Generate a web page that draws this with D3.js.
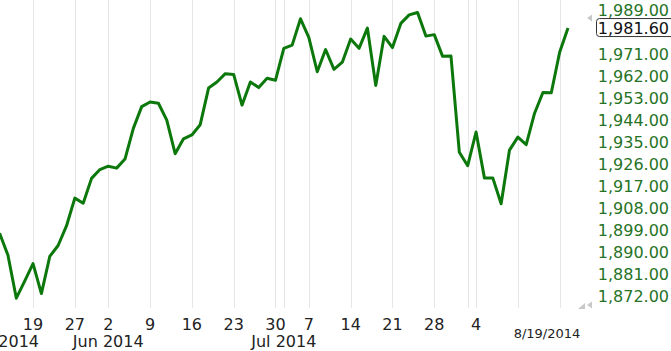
<!DOCTYPE html>
<html>
<head>
<meta charset="utf-8">
<script src="https://cdn.jsdelivr.net/npm/d3@7"></script>
<style>
  body { margin: 0; background: #fff; }
  svg { display: block; font-family: "DejaVu Sans", Verdana, sans-serif; }
</style>
</head>
<body>
<div id="chart"></div>
<script>
// trading days shown (close values)
const days = [
  "2014-05-13","2014-05-14","2014-05-15","2014-05-16","2014-05-19","2014-05-20","2014-05-21","2014-05-22","2014-05-23","2014-05-27","2014-05-28","2014-05-29","2014-05-30",
  "2014-06-02","2014-06-03","2014-06-04","2014-06-05","2014-06-06","2014-06-09","2014-06-10","2014-06-11","2014-06-12","2014-06-13","2014-06-16","2014-06-17","2014-06-18","2014-06-19","2014-06-20","2014-06-23","2014-06-24","2014-06-25","2014-06-26","2014-06-27","2014-06-30",
  "2014-07-01","2014-07-02","2014-07-03","2014-07-07","2014-07-08","2014-07-09","2014-07-10","2014-07-11","2014-07-14","2014-07-15","2014-07-16","2014-07-17","2014-07-18","2014-07-21","2014-07-22","2014-07-23","2014-07-24","2014-07-25","2014-07-28","2014-07-29","2014-07-30","2014-07-31",
  "2014-08-01","2014-08-04","2014-08-05","2014-08-06","2014-08-07","2014-08-08","2014-08-11","2014-08-12","2014-08-13","2014-08-14","2014-08-15","2014-08-18","2014-08-19"
];
const closes = [
  1897.5, 1888.5, 1870.9, 1877.9, 1885.1, 1872.8, 1888.0, 1892.5, 1900.5, 1911.9, 1909.8, 1920.0, 1923.6,
  1925.0, 1924.2, 1927.9, 1940.5, 1949.4, 1951.3, 1950.8, 1943.9, 1930.1, 1936.2, 1937.8, 1942.0, 1957.0, 1959.5, 1962.9, 1962.6, 1950.0, 1959.5, 1957.2, 1961.0, 1960.2,
  1973.3, 1974.6, 1985.4, 1977.7, 1963.7, 1972.8, 1964.7, 1967.6, 1977.1, 1973.3, 1981.6, 1958.1, 1978.2, 1973.6, 1983.5, 1987.0, 1988.0, 1978.3, 1978.9, 1970.0, 1970.1, 1930.7,
  1925.2, 1939.0, 1920.2, 1920.2, 1909.6, 1931.6, 1936.9, 1933.8, 1946.7, 1955.2, 1955.1, 1971.7, 1981.6
];

// x tick days with their labels ("" = gridline only)
const tickDays   = ["2014-05-19","2014-05-27","2014-06-02","2014-06-09","2014-06-16","2014-06-23","2014-06-30","2014-07-01","2014-07-07","2014-07-14","2014-07-21","2014-07-28","2014-08-01","2014-08-04","2014-08-11","2014-08-18"];
const tickLabels = ["19","27","2","9","16","23","30","","7","14","21","28","","4","",""];
const monthDays   = ["2014-05-13","2014-06-02","2014-07-01"];
const monthLabels = ["May 2014","Jun 2014","Jul 2014"];
const yTicks = [1872, 1881, 1890, 1899, 1908, 1917, 1926, 1935, 1944, 1953, 1962, 1971, 1989];
const lastLabel = "8/19/2014";

const width = 671, height = 351;

const svg = d3.select("#chart")
  .append("svg")
    .attr("width", width)
    .attr("height", height);

const idx = d => days.indexOf(d);

const x = d3.scaleLinear()
    .domain([0, days.length - 1])
    .range([-0.4, 568]);

const y = d3.scaleLinear()
    .domain([1872, 1989])
    .range([295.5, 10]);

// vertical gridlines
svg.append("g")
  .selectAll("line")
  .data(tickDays)
  .join("line")
    .attr("x1", d => Math.round(x(idx(d))) + 0.5)
    .attr("x2", d => Math.round(x(idx(d))) + 0.5)
    .attr("y1", 0)
    .attr("y2", 308)
    .attr("stroke", "#e6e6e6")
    .attr("stroke-width", 1);

// price line
const line = d3.line()
    .x((d, i) => x(i))
    .y(d => y(d));

svg.append("path")
    .datum(closes)
    .attr("fill", "none")
    .attr("stroke", "#0c780c")
    .attr("stroke-width", 3)
    .attr("stroke-linejoin", "round")
    .attr("d", line);

// x tick labels
svg.append("g")
  .selectAll("text")
  .data(tickDays.map((d, i) => ({d, t: tickLabels[i]})).filter(o => o.t))
  .join("text")
    .attr("x", o => x(idx(o.d)))
    .attr("y", 330)
    .attr("text-anchor", "middle")
    .attr("font-size", 16)
    .attr("fill", "#222")
    .text(o => o.t);

// month labels
svg.append("g")
  .selectAll("text")
  .data(monthDays)
  .join("text")
    .attr("x", d => x(idx(d)))
    .attr("y", 347)
    .attr("text-anchor", "middle")
    .attr("font-size", 16)
    .attr("fill", "#222")
    .text((d, i) => monthLabels[i]);

// current date label
svg.append("text")
    .attr("x", 547)
    .attr("y", 338)
    .attr("text-anchor", "middle")
    .attr("font-size", 13)
    .attr("fill", "#222")
    .text(lastLabel);

// y tick labels on the right
svg.append("g")
  .selectAll("text")
  .data(yTicks)
  .join("text")
    .attr("x", 669)
    .attr("y", d => y(d) + 6)
    .attr("text-anchor", "end")
    .attr("font-size", 16)
    .attr("fill", "#267326")
    .text(d => d3.format(",.2f")(d));

// current value box
const last = closes[closes.length - 1];
svg.append("rect")
    .attr("x", 596.5)
    .attr("y", y(last) - 9.5)
    .attr("width", 80)
    .attr("height", 18)
    .attr("rx", 3)
    .attr("fill", "#fff")
    .attr("stroke", "#333");
svg.append("text")
    .attr("x", 669)
    .attr("y", y(last) + 6)
    .attr("text-anchor", "end")
    .attr("font-size", 16)
    .attr("fill", "#111")
    .text(d3.format(",.2f")(last));

// small grey scroll arrows
svg.append("path")
    .attr("d", "M587,18 L592,14.5 L592,21.5 Z")
    .attr("fill", "#c8c8c8");
svg.append("path")
    .attr("d", "M578,309 L585,309 L585,303 Z M587,305 L592,301.5 L592,308.5 Z")
    .attr("fill", "#c8c8c8");
</script>
</body>
</html>
